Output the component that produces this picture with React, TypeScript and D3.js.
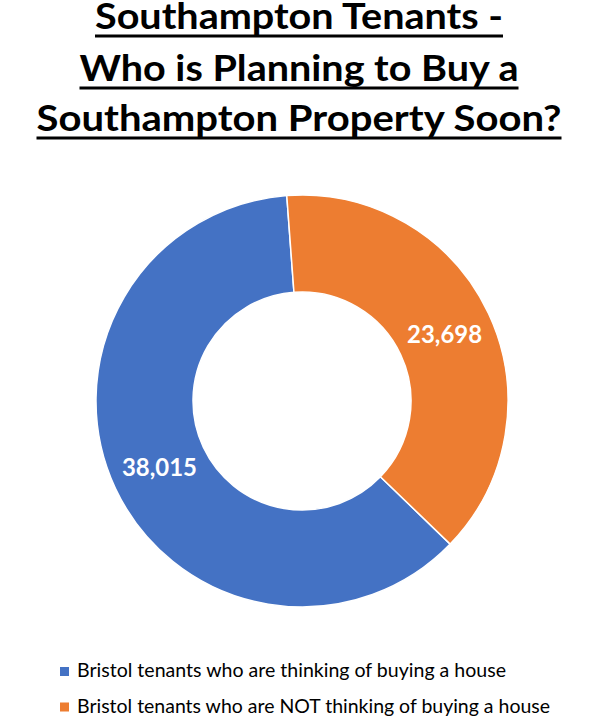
import React, { useMemo } from "react";
import * as d3 from "d3";

const W = 598;
const H = 720;

const titleLines = [
  "Southampton Tenants -",
  "Who is Planning to Buy a",
  "Southampton Property Soon?",
];
const categories = [
  "Bristol tenants who are thinking of buying a house",
  "Bristol tenants who are NOT thinking of buying a house",
];
const values = [38015, 23698];
const colors = ["#4472C4", "#ED7D31"];

// rough widths measured off the original (Calibri) rendering
const titleWidths = [408, 439, 525];
const titleBaselines = [29, 81, 131];
const legendWidths = [429, 473];

const FONT = "Lato, 'Open Sans', sans-serif";

const App = () => {
  const cx = 302;
  const cy = 401;
  const outerR = 206;
  const innerR = 109;
  const firstSliceDeg = 134;

  const arcs = useMemo(() => {
    const start = (firstSliceDeg * Math.PI) / 180;
    return d3
      .pie<number>()
      .sort(null)
      .startAngle(start)
      .endAngle(start + 2 * Math.PI)(values);
  }, []);

  const arcGen = d3.arc<any>().innerRadius(innerR).outerRadius(outerR);
  const labelArc = d3
    .arc<any>()
    .innerRadius((innerR + outerR) / 2)
    .outerRadius((innerR + outerR) / 2);
  const fmt = d3.format(",");

  return (
    <svg
      width={W}
      height={H}
      style={{ position: "absolute", top: 0, left: 0, background: "#fff" }}
    >
      <g>
        {titleLines.map((t, i) => {
          const y = titleBaselines[i];
          const w = titleWidths[i];
          return (
            <g key={i}>
              <text
                x={W / 2 - w / 2}
                y={y}
                fontFamily={FONT}
                fontWeight="bold"
                fontSize={37}
                textLength={w}
                lengthAdjust="spacingAndGlyphs"
                fill="#000"
              >
                {t}
              </text>
              <rect x={W / 2 - w / 2} y={y + 5.5} width={w} height={3} fill="#000" />
            </g>
          );
        })}
      </g>
      <g transform={`translate(${cx},${cy})`}>
        {arcs.map((a, i) => (
          <path
            key={i}
            d={arcGen(a) as string}
            fill={colors[i]}
            stroke="#fff"
            strokeWidth={1.5}
          />
        ))}
        {arcs.map((a, i) => {
          const [lx, ly] = labelArc.centroid(a);
          return (
            <text
              key={`l${i}`}
              x={lx}
              y={ly}
              dy="0.35em"
              textAnchor="middle"
              fontFamily={FONT}
              fontWeight="bold"
              fontSize={24}
              textLength={75}
              lengthAdjust="spacingAndGlyphs"
              fill="#fff"
            >
              {fmt(values[i])}
            </text>
          );
        })}
      </g>
      <g>
        {categories.map((c, i) => {
          const y = 677 + i * 35.5;
          return (
            <g key={i}>
              <rect x={60} y={y - 10} width={9} height={9} fill={colors[i]} />
              <text
                x={77}
                y={y}
                fontFamily={FONT}
                fontSize={19}
                textLength={legendWidths[i]}
                lengthAdjust="spacingAndGlyphs"
                fill="#000"
              >
                {c}
              </text>
            </g>
          );
        })}
      </g>
    </svg>
  );
};

export default App;
